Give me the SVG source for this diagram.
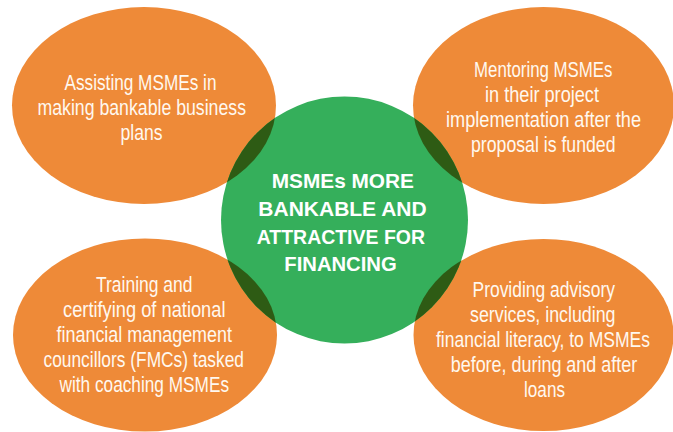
<svg xmlns="http://www.w3.org/2000/svg" width="673" height="432" viewBox="0 0 673 432">
  <style>
    .petal { fill: #EE8A38; }
    .hub { fill: #35AF5B; }
    .overlap { fill: #2E5B14; }
    .ptext { font-family: "Liberation Sans", Arial, sans-serif; font-size: 22px; fill: #FFF8EF; text-anchor: start; }
    .htext { font-family: "Liberation Sans", Arial, sans-serif; font-size: 21px; font-weight: bold; fill: #FFFFFF; text-anchor: start; }
  </style>
  <defs>
    <clipPath id="hubClip">
      <circle cx="344.5" cy="220" r="123.5"/>
    </clipPath>
  </defs>
  <rect width="673" height="432" fill="#FFFFFF"/>

  <g id="node-assisting">
    <ellipse class="petal" cx="144" cy="105.5" rx="132" ry="98.5"/>
  </g>
  <g id="node-mentoring">
    <ellipse class="petal" cx="543.5" cy="105.5" rx="130.5" ry="98.5"/>
  </g>
  <g id="node-training">
    <ellipse class="petal" cx="145" cy="335" rx="132" ry="96.5"/>
  </g>
  <g id="node-providing">
    <ellipse class="petal" cx="543.5" cy="335" rx="130" ry="96"/>
  </g>

  <g id="node-center">
    <circle class="hub" cx="344.5" cy="220" r="123.5"/>
  </g>

  <g id="overlaps" clip-path="url(#hubClip)">
    <ellipse class="overlap" cx="144" cy="105.5" rx="132" ry="98.5"/>
    <ellipse class="overlap" cx="543.5" cy="105.5" rx="130.5" ry="98.5"/>
    <ellipse class="overlap" cx="145" cy="335" rx="132" ry="96.5"/>
    <ellipse class="overlap" cx="543.5" cy="335" rx="130" ry="96"/>
  </g>

  <g id="label-assisting" class="ptext">
    <text x="64.5" y="89.5" textLength="152" lengthAdjust="spacingAndGlyphs">Assisting MSMEs in</text>
    <text x="37.5" y="114.5" textLength="208.5" lengthAdjust="spacingAndGlyphs">making bankable business</text>
    <text x="120.5" y="139.5" textLength="42" lengthAdjust="spacingAndGlyphs">plans</text>
  </g>

  <g id="label-mentoring" class="ptext">
    <text x="474" y="77.3" textLength="138.5" lengthAdjust="spacingAndGlyphs">Mentoring MSMEs</text>
    <text x="485" y="102.3" textLength="114" lengthAdjust="spacingAndGlyphs">in their project</text>
    <text x="446" y="127.3" textLength="195" lengthAdjust="spacingAndGlyphs">implementation after the</text>
    <text x="471" y="152.3" textLength="144.5" lengthAdjust="spacingAndGlyphs">proposal is funded</text>
  </g>

  <g id="label-training" class="ptext">
    <text x="96" y="291.7" textLength="96.5" lengthAdjust="spacingAndGlyphs">Training and</text>
    <text x="63" y="316.7" textLength="162.5" lengthAdjust="spacingAndGlyphs">certifying of national</text>
    <text x="56.5" y="341.7" textLength="175.5" lengthAdjust="spacingAndGlyphs">financial management</text>
    <text x="43.5" y="366.7" textLength="200.5" lengthAdjust="spacingAndGlyphs">councillors (FMCs) tasked</text>
    <text x="59.5" y="391.7" textLength="169.5" lengthAdjust="spacingAndGlyphs">with coaching MSMEs</text>
  </g>

  <g id="label-providing" class="ptext">
    <text x="472.5" y="296.7" textLength="142.5" lengthAdjust="spacingAndGlyphs">Providing advisory</text>
    <text x="470" y="321.7" textLength="145.5" lengthAdjust="spacingAndGlyphs">services, including</text>
    <text x="436" y="346.7" textLength="214" lengthAdjust="spacingAndGlyphs">financial literacy, to MSMEs</text>
    <text x="450.7" y="371.7" textLength="186.5" lengthAdjust="spacingAndGlyphs">before, during and after</text>
    <text x="524" y="396.7" textLength="41" lengthAdjust="spacingAndGlyphs">loans</text>
  </g>

  <g id="label-center" class="htext">
    <text x="271.7" y="188.3" textLength="142.3" lengthAdjust="spacingAndGlyphs">MSMEs MORE</text>
    <text x="258.3" y="216" textLength="168.4" lengthAdjust="spacingAndGlyphs">BANKABLE AND</text>
    <text x="256.7" y="243.5" textLength="168.3" lengthAdjust="spacingAndGlyphs">ATTRACTIVE FOR</text>
    <text x="284.3" y="271" textLength="112.4" lengthAdjust="spacingAndGlyphs">FINANCING</text>
  </g>

  <g id="connectors"></g>
</svg>
